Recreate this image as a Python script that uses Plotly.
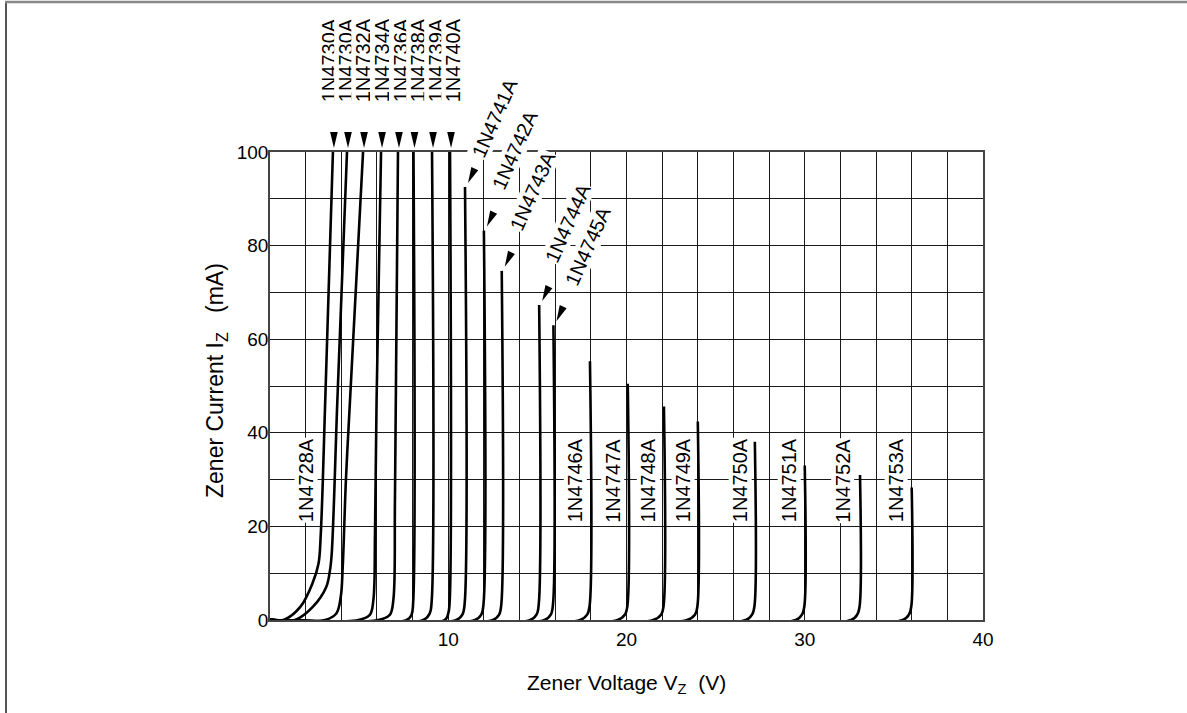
import numpy as np
import plotly.graph_objects as go

# ---------------- data ----------------
x_tickvals = [10, 20, 30, 40]
y_tickvals = [0, 20, 40, 60, 80, 100]

# Zener curves: voltage (V) and current (mA) points
v_4728 = [0, 0.75, 1.7, 2.4, 2.72, 2.85, 3.1, 3.53]
i_4728 = [0, 0, 2.8, 8.0, 12.0, 18.5, 47, 100]
v_4730 = [0, 1.4, 2.4, 3.15, 3.36, 3.46, 3.78, 4.32]
i_4730 = [0, 0, 2.8, 7.0, 10.5, 14.0, 47, 100]
v_4732 = [0, 3.09, 3.72, 3.97, 4.08, 4.26, 4.49, 5.22]
i_4732 = [0, 0, 1.4, 5.0, 11.4, 30, 47, 100]
v_4734 = [0, 4.96, 5.6, 5.8, 5.89, 5.98, 6.23]
i_4734 = [0, 0, 1.1, 4.3, 18.5, 47, 100]
v_4736 = [0, 6.08, 6.72, 6.92, 7.01, 7.18]
i_4736 = [0, 0, 1.1, 4.3, 25.6, 100]
v_4738 = [0, 7.67, 7.94, 8.03, 8.05]
i_4738 = [0, 0, 1.1, 3.6, 100]
v_4739 = [0, 8.6, 8.96, 9.07, 9.09]
i_4739 = [0, 0, 1.4, 4.0, 100]
v_4740 = [0, 9.8, 10.0, 10.08, 10.1]
i_4740 = [0, 0, 1.4, 4.0, 100]
v_4741 = [0, 10.45, 10.8, 10.92, 10.94]
i_4741 = [0, 0, 1.2, 3.5, 92.5]
v_4742 = [0, 11.5, 11.86, 11.98, 12.0]
i_4742 = [0, 0, 1.2, 3.5, 83.2]
v_4743 = [0, 12.5, 12.86, 12.98, 13.0]
i_4743 = [0, 0, 1.2, 3.5, 74.6]
v_4744 = [0, 14.6, 14.96, 15.08, 15.1]
i_4744 = [0, 0, 1.2, 3.5, 67.3]
v_4745 = [0, 15.4, 15.76, 15.88, 15.9]
i_4745 = [0, 0, 1.2, 3.5, 63.0]
v_4746 = [0, 17.4, 17.8, 17.93, 17.95]
i_4746 = [0, 0, 1.2, 3.0, 55.3]
v_4747 = [0, 19.5, 19.92, 20.05, 20.07]
i_4747 = [0, 0, 1.2, 3.0, 50.5]
v_4748 = [0, 21.5, 21.95, 22.08, 22.1]
i_4748 = [0, 0, 1.2, 3.0, 45.6]
v_4749 = [0, 23.4, 23.85, 23.98, 24.0]
i_4749 = [0, 0, 1.2, 3.0, 42.4]
v_4750 = [0, 26.7, 27.05, 27.18, 27.2]
i_4750 = [0, 0, 1.2, 3.0, 38.1]
v_4751 = [0, 29.5, 29.85, 29.98, 30.0]
i_4751 = [0, 0, 1.2, 3.0, 33.0]
v_4752 = [0, 32.6, 32.95, 33.08, 33.1]
i_4752 = [0, 0, 1.2, 3.0, 31.0]
v_4753 = [0, 35.5, 35.85, 35.98, 36.0]
i_4753 = [0, 0, 1.2, 3.0, 28.3]

# labels
top_labels = ["1N4730A", "1N4730A", "1N4732A", "1N4734A", "1N4736A", "1N4738A", "1N4739A", "1N4740A"]
top_label_v = [3.31, 4.26, 5.22, 6.28, 7.35, 8.30, 9.31, 10.27]
top_label_i = [119.6] * 8

diag_labels = ["1N4741A", "1N4742A", "1N4743A", "1N4744A", "1N4745A"]
diag_label_v = [12.62, 13.74, 14.75, 16.72, 17.84]
diag_label_i = [107.2, 100.4, 91.6, 84.8, 79.9]

bottom_labels = ["1N4728A", "1N4746A", "1N4747A", "1N4748A", "1N4749A", "1N4750A", "1N4751A", "1N4752A", "1N4753A"]
bottom_label_v = [2.0, 17.1, 19.2, 21.2, 23.15, 26.35, 29.1, 32.1, 35.1]
bottom_label_i = [29.8] * 9

x_title = "Zener Voltage V<sub>Z</sub>\u00a0\u00a0(V)"
y_title = "Zener Current I<sub>Z</sub>\u00a0\u00a0\u00a0(mA)"

# ---------------- layout geometry ----------------
W, H = 1187, 713
ML, MR, MT, MB = 270, 204, 152, 93
PW = W - ML - MR
PH = H - MT - MB
FONT = "Arial, 'Liberation Sans', Helvetica, sans-serif"
GRID = "#1a1a1a"


def xp(px):
    return (px - ML) / PW


def yp(py):
    return (H - MB - py) / PH


curves = [
    (v_4728, i_4728), (v_4730, i_4730), (v_4732, i_4732), (v_4734, i_4734),
    (v_4736, i_4736), (v_4738, i_4738), (v_4739, i_4739), (v_4740, i_4740),
    (v_4741, i_4741), (v_4742, i_4742), (v_4743, i_4743), (v_4744, i_4744),
    (v_4745, i_4745), (v_4746, i_4746), (v_4747, i_4747), (v_4748, i_4748),
    (v_4749, i_4749), (v_4750, i_4750), (v_4751, i_4751), (v_4752, i_4752),
    (v_4753, i_4753),
]

fig = go.Figure()
for v, i in curves:
    fig.add_trace(go.Scatter(
        x=v, y=i, mode="lines",
        line=dict(color="black", width=2.6, shape="spline", smoothing=1.0),
        cliponaxis=False, hoverinfo="skip", showlegend=False,
    ))


def arrow_path(theta_deg, tip_dx, tip_dy, length=16.0, half_w=3.8):
    t = np.radians(theta_deg)
    ax_dir = np.array([np.sin(t), np.cos(t)])      # pixel space, y up
    perp = np.array([np.cos(t), -np.sin(t)])
    tip = np.array([tip_dx, tip_dy])
    base = tip + length * ax_dir
    c1 = base + half_w * perp
    c2 = base - half_w * perp
    return f"M {tip[0]:.2f},{tip[1]:.2f} L {c1[0]:.2f},{c1[1]:.2f} L {c2[0]:.2f},{c2[1]:.2f} Z"


shapes = []
# arrows at the top of the first 13 curves (8 vertical, 5 tilted)
for k in range(13):
    v, i = curves[k]
    pth = arrow_path(0, 1, 4) if k < 8 else arrow_path(25, 3, 4)
    shapes.append(dict(
        type="path", xref="x", yref="paper",
        xsizemode="pixel", ysizemode="pixel",
        xanchor=v[-1], yanchor=i[-1] / 100.0,
        path=pth, fillcolor="black", line=dict(width=0), layer="above",
    ))

# outer frame lines (partial border of the original image)
shapes.append(dict(type="line", xref="paper", yref="paper",
                   x0=xp(6), x1=xp(6), y0=yp(2), y1=yp(H + 2),
                   line=dict(color="#555555", width=2)))
shapes.append(dict(type="line", xref="paper", yref="paper",
                   x0=xp(5), x1=xp(W + 2), y0=yp(2), y1=yp(2),
                   line=dict(color="#888888", width=2.5)))

annotations = []
LABEL_FONT = dict(family=FONT, size=20, color="black")
for txt, v, i in zip(top_labels, top_label_v, top_label_i):
    annotations.append(dict(text=txt, x=v, y=i / 100.0, xref="x", yref="paper",
                            showarrow=False, textangle=-90, font=LABEL_FONT,
                            bgcolor="white", borderpad=0,
                            xanchor="center", yanchor="middle"))
for txt, v, i in zip(diag_labels, diag_label_v, diag_label_i):
    annotations.append(dict(text=txt, x=v, y=i / 100.0, xref="x", yref="paper",
                            showarrow=False, textangle=-66, font=LABEL_FONT,
                            bgcolor="white", borderpad=0,
                            xanchor="center", yanchor="middle"))
for txt, v, i in zip(bottom_labels, bottom_label_v, bottom_label_i):
    annotations.append(dict(text=txt, x=v, y=i / 100.0, xref="x", yref="paper",
                            showarrow=False, textangle=-90, font=LABEL_FONT,
                            bgcolor="white", borderpad=0,
                            xanchor="center", yanchor="middle"))

# axis titles
annotations.append(dict(text=x_title,
                        x=xp(626), y=yp(684), xref="paper", yref="paper",
                        showarrow=False, font=dict(family=FONT, size=21, color="black"),
                        xanchor="center", yanchor="middle"))
annotations.append(dict(text=y_title,
                        x=xp(216), y=yp(381), xref="paper", yref="paper",
                        showarrow=False, textangle=-90,
                        font=dict(family=FONT, size=23, color="black"),
                        xanchor="center", yanchor="middle"))

fig.update_layout(
    width=W, height=H,
    margin=dict(l=ML, r=MR, t=MT, b=MB, autoexpand=False),
    paper_bgcolor="white", plot_bgcolor="white",
    font=dict(family=FONT, size=19, color="black"),
    showlegend=False,
    shapes=shapes, annotations=annotations,
    xaxis=dict(
        range=[0, 40], tickmode="array", tickvals=x_tickvals,
        ticktext=[str(t) for t in x_tickvals],
        showgrid=True, gridcolor=GRID, gridwidth=1.2,
        minor=dict(dtick=2, tick0=0, showgrid=True, gridcolor=GRID, gridwidth=1.2),
        showline=True, linecolor="#444444", linewidth=1.5, mirror=True,
        ticks="", zeroline=False, ticklabelstandoff=1,
        tickfont=dict(family=FONT, size=19, color="black"),
    ),
    yaxis=dict(
        range=[0, 100], tickmode="array", tickvals=y_tickvals,
        ticktext=[str(t) for t in y_tickvals],
        showgrid=True, gridcolor=GRID, gridwidth=1.2,
        minor=dict(dtick=10, tick0=0, showgrid=True, gridcolor=GRID, gridwidth=1.2),
        showline=True, linecolor="#444444", linewidth=1.5, mirror=True,
        ticks="", zeroline=False, ticklabelstandoff=-4,
        tickfont=dict(family=FONT, size=19, color="black"),
    ),
)

fig.write_html(
    "out.html",
    config={"displayModeBar": False},
    post_script="document.body.style.margin='0px';document.body.style.overflow='hidden';",
)
